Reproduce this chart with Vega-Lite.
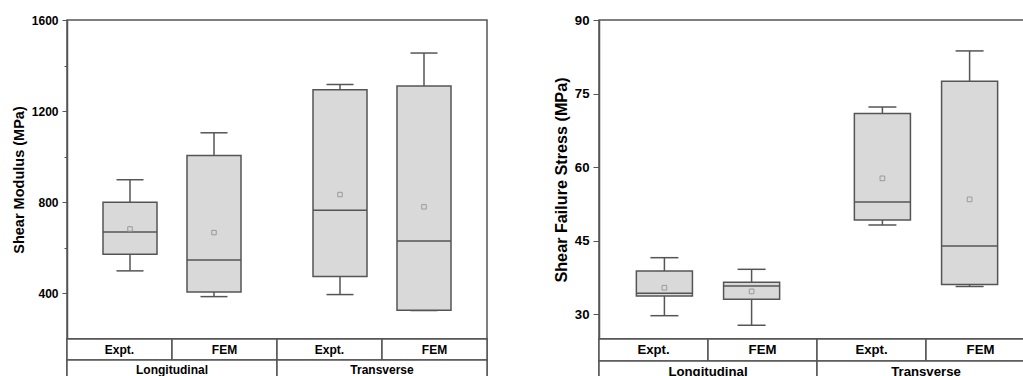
{
  "$schema": "https://vega.github.io/schema/vega-lite/v6.json",
  "padding": {"left": 10, "top": 12, "right": 0, "bottom": 0},
  "background": "white",
  "config": {
    "font": "Liberation Sans",
    "view": {"stroke": "#555555", "strokeWidth": 1.5},
    "axis": {
      "labelFont": "Liberation Sans", "labelFontWeight": "bold", "labelFontSize": 12, "labelColor": "black",
      "titleFont": "Liberation Sans", "titleFontWeight": "bold", "titleFontSize": 14.5, "titleColor": "black",
      "domainColor": "#555555", "domainWidth": 1.5, "tickColor": "#555555", "tickWidth": 1,
      "grid": false, "labelPadding": 4, "titlePadding": 5
    }
  },
  "datasets": {
    "modulus": [
      {"group": "Longitudinal", "method": "Expt.", "min": 499, "q1": 572, "median": 670, "mean": 683, "q3": 800, "max": 899},
      {"group": "Longitudinal", "method": "FEM", "min": 386, "q1": 406, "median": 547, "mean": 667, "q3": 1005, "max": 1105},
      {"group": "Transverse", "method": "Expt.", "min": 395, "q1": 474, "median": 765, "mean": 834, "q3": 1294, "max": 1317},
      {"group": "Transverse", "method": "FEM", "min": 325, "q1": 326, "median": 630, "mean": 780, "q3": 1310, "max": 1455}
    ],
    "stress": [
      {"group": "Longitudinal", "method": "Expt.", "min": 29.75, "q1": 33.76, "median": 34.3, "mean": 35.45, "q3": 38.85, "max": 41.57},
      {"group": "Longitudinal", "method": "FEM", "min": 27.8, "q1": 33.1, "median": 35.8, "mean": 34.7, "q3": 36.54, "max": 39.2},
      {"group": "Transverse", "method": "Expt.", "min": 48.23, "q1": 49.25, "median": 52.92, "mean": 57.73, "q3": 70.97, "max": 72.27},
      {"group": "Transverse", "method": "FEM", "min": 35.7, "q1": 36.13, "median": 43.95, "mean": 53.45, "q3": 77.5, "max": 83.7}
    ],
    "groups": [{"group": "Longitudinal"}, {"group": "Transverse"}]
  },
  "spacing": 63,
  "hconcat": [
    {
      "spacing": 0,
      "bounds": "flush",
      "resolve": {"scale": {"x": "independent", "xOffset": "independent", "y": "independent"}},
      "vconcat": [
        {
          "width": 420, "height": 319,
          "data": {"name": "modulus"},
          "encoding": {
            "x": {"field": "group", "type": "nominal", "axis": null, "scale": {"paddingInner": 0, "paddingOuter": 0}},
            "xOffset": {"field": "method", "type": "nominal", "scale": {"paddingInner": 0.357, "paddingOuter": 0.4286}}
          },
          "layer": [
            {"mark": {"type": "rule", "stroke": "#555555", "strokeWidth": 1.5},
             "encoding": {
               "y": {"field": "min", "type": "quantitative", "scale": {"domain": [200, 1600], "nice": false, "zero": false},
                     "axis": {"values": [400, 600, 800, 1000, 1200, 1400, 1600], "format": "d",
                              "labelExpr": "datum.value % 400 === 0 ? datum.label : ''",
                              "tickSize": {"condition": {"test": "datum.value % 400 === 0", "value": 5}, "value": 3},
                              "title": "Shear Modulus (MPa)"}},
               "y2": {"field": "max"}}},
            {"mark": {"type": "tick", "size": 27, "thickness": 1.5, "color": "#555555", "opacity": 1},
             "encoding": {"y": {"field": "max", "type": "quantitative"}}},
            {"mark": {"type": "tick", "size": 27, "thickness": 1.5, "color": "#555555", "opacity": 1},
             "encoding": {"y": {"field": "min", "type": "quantitative"}}},
            {"mark": {"type": "bar", "fill": "#d9d9d9", "stroke": "#555555", "strokeWidth": 1.5},
             "encoding": {"y": {"field": "q1", "type": "quantitative"}, "y2": {"field": "q3"}}},
            {"mark": {"type": "tick", "size": 54, "thickness": 1.5, "color": "#555555", "opacity": 1},
             "encoding": {"y": {"field": "median", "type": "quantitative"}}},
            {"mark": {"type": "point", "shape": "square", "size": 20, "filled": false, "stroke": "#9a9a9a", "strokeWidth": 1, "opacity": 1},
             "encoding": {"y": {"field": "mean", "type": "quantitative"}}}
          ]
        },
        {
          "width": 420, "height": 42,
          "layer": [
            {"data": {"name": "modulus"},
             "mark": {"type": "rect", "fill": "white", "stroke": "#555555", "strokeWidth": 1.5},
             "encoding": {
               "x": {"field": "group", "type": "nominal", "axis": null, "scale": {"paddingInner": 0, "paddingOuter": 0}},
               "xOffset": {"field": "method", "type": "nominal", "scale": {"paddingInner": 0, "paddingOuter": 0}},
               "y": {"datum": "methods", "type": "nominal", "axis": null, "scale": {"domain": ["methods", "groups"], "paddingInner": 0, "paddingOuter": 0}}}},
            {"data": {"name": "modulus"},
             "mark": {"type": "text", "font": "Liberation Sans", "fontWeight": "bold", "fontSize": 12, "color": "black"},
             "encoding": {
               "x": {"field": "group", "type": "nominal", "axis": null},
               "xOffset": {"field": "method", "type": "nominal"},
               "y": {"datum": "methods", "type": "nominal", "axis": null},
               "text": {"field": "method"}}},
            {"data": {"name": "groups"},
             "mark": {"type": "rect", "fill": "white", "stroke": "#555555", "strokeWidth": 1.5},
             "encoding": {
               "x": {"field": "group", "type": "nominal", "axis": null},
               "y": {"datum": "groups", "type": "nominal", "axis": null}}},
            {"data": {"name": "groups"},
             "mark": {"type": "text", "font": "Liberation Sans", "fontWeight": "bold", "fontSize": 12, "color": "black", "dy": -1},
             "encoding": {
               "x": {"field": "group", "type": "nominal", "axis": null},
               "y": {"datum": "groups", "type": "nominal", "axis": null},
               "text": {"field": "group"}}}
          ]
        }
      ]
    },
    {
      "spacing": 0,
      "bounds": "flush",
      "resolve": {"scale": {"x": "independent", "xOffset": "independent", "y": "independent"}},
      "vconcat": [
        {
          "width": 436, "height": 319,
          "data": {"name": "stress"},
          "encoding": {
            "x": {"field": "group", "type": "nominal", "axis": null, "scale": {"paddingInner": 0, "paddingOuter": 0}},
            "xOffset": {"field": "method", "type": "nominal", "scale": {"paddingInner": 0.357, "paddingOuter": 0.4286}}
          },
          "layer": [
            {"mark": {"type": "rule", "stroke": "#555555", "strokeWidth": 1.5},
             "encoding": {
               "y": {"field": "min", "type": "quantitative", "scale": {"domain": [25, 90], "nice": false, "zero": false},
                     "axis": {"values": [30, 37.5, 45, 52.5, 60, 67.5, 75, 82.5, 90], "format": "d",
                              "labelExpr": "(datum.value - 30) % 15 === 0 ? datum.label : ''",
                              "labelFontSize": 13.2, "titleFontSize": 16.2,
                              "tickSize": {"condition": {"test": "(datum.value - 30) % 15 === 0", "value": 6}, "value": 3},
                              "title": "Shear Failure Stress (MPa)"}},
               "y2": {"field": "max"}}},
            {"mark": {"type": "tick", "size": 28, "thickness": 1.5, "color": "#555555", "opacity": 1},
             "encoding": {"y": {"field": "max", "type": "quantitative"}}},
            {"mark": {"type": "tick", "size": 28, "thickness": 1.5, "color": "#555555", "opacity": 1},
             "encoding": {"y": {"field": "min", "type": "quantitative"}}},
            {"mark": {"type": "bar", "fill": "#d9d9d9", "stroke": "#555555", "strokeWidth": 1.5},
             "encoding": {"y": {"field": "q1", "type": "quantitative"}, "y2": {"field": "q3"}}},
            {"mark": {"type": "tick", "size": 56, "thickness": 1.5, "color": "#555555", "opacity": 1},
             "encoding": {"y": {"field": "median", "type": "quantitative"}}},
            {"mark": {"type": "point", "shape": "square", "size": 22, "filled": false, "stroke": "#9a9a9a", "strokeWidth": 1, "opacity": 1},
             "encoding": {"y": {"field": "mean", "type": "quantitative"}}}
          ]
        },
        {
          "width": 436, "height": 44,
          "layer": [
            {"data": {"name": "stress"},
             "mark": {"type": "rect", "fill": "white", "stroke": "#555555", "strokeWidth": 1.5},
             "encoding": {
               "x": {"field": "group", "type": "nominal", "axis": null, "scale": {"paddingInner": 0, "paddingOuter": 0}},
               "xOffset": {"field": "method", "type": "nominal", "scale": {"paddingInner": 0, "paddingOuter": 0}},
               "y": {"datum": "methods", "type": "nominal", "axis": null, "scale": {"domain": ["methods", "groups"], "paddingInner": 0, "paddingOuter": 0}}}},
            {"data": {"name": "stress"},
             "mark": {"type": "text", "font": "Liberation Sans", "fontWeight": "bold", "fontSize": 13.2, "color": "black"},
             "encoding": {
               "x": {"field": "group", "type": "nominal", "axis": null},
               "xOffset": {"field": "method", "type": "nominal"},
               "y": {"datum": "methods", "type": "nominal", "axis": null},
               "text": {"field": "method"}}},
            {"data": {"name": "groups"},
             "mark": {"type": "rect", "fill": "white", "stroke": "#555555", "strokeWidth": 1.5},
             "encoding": {
               "x": {"field": "group", "type": "nominal", "axis": null},
               "y": {"datum": "groups", "type": "nominal", "axis": null}}},
            {"data": {"name": "groups"},
             "mark": {"type": "text", "font": "Liberation Sans", "fontWeight": "bold", "fontSize": 13.2, "color": "black"},
             "encoding": {
               "x": {"field": "group", "type": "nominal", "axis": null},
               "y": {"datum": "groups", "type": "nominal", "axis": null},
               "text": {"field": "group"}}}
          ]
        }
      ]
    }
  ]
}
